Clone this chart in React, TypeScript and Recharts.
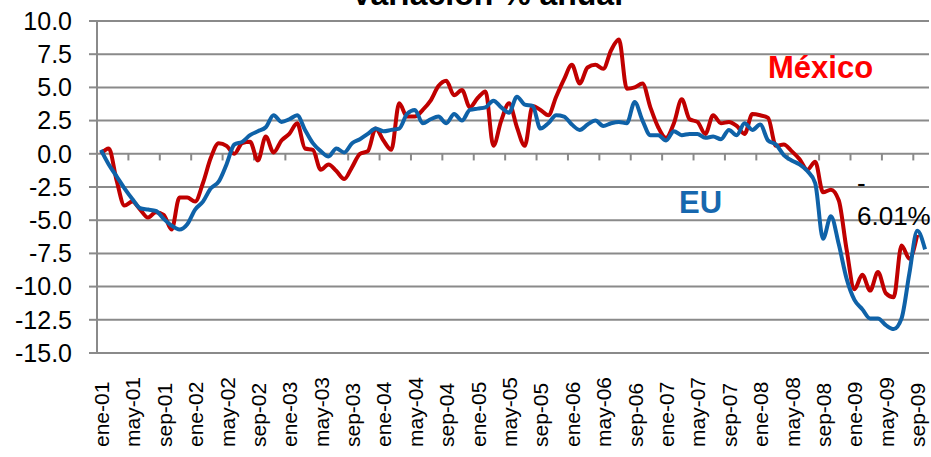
import React from 'react';
import { LineChart, Line, XAxis, YAxis, CartesianGrid, ReferenceLine } from 'recharts';

const months = ['ene', 'feb', 'mar', 'abr', 'may', 'jun', 'jul', 'ago', 'sep', 'oct', 'nov', 'dic'];
const years = ['01', '02', '03', '04', '05', '06', '07', '08', '09'];

// ene-01 .. oct-09
const categories = years.flatMap((y) => months.map((m) => `${m}-${y}`)).slice(0, 106);

const mexico = [
  0.0, 0.4, -2.0, -3.9, -3.6, -4.2, -4.8, -4.4, -4.6, -5.7,
  -3.3, -3.3, -3.6, -2.2, -0.3, 0.8, 0.6, 0.0, 0.8, 0.9,
  -0.5, 1.3, 0.1, 1.0, 1.5, 2.3, 0.4, 0.3, -1.2, -0.8,
  -1.3, -1.9, -1.0, 0.0, 0.2, 1.9, 1.0, 0.3, 3.8, 2.8,
  2.8, 3.3, 4.0, 5.1, 5.5, 4.4, 4.8, 3.5, 4.2, 4.7,
  0.6, 2.5, 3.8, 2.0, 0.6, 3.6, 3.3, 2.9, 4.3, 5.6,
  6.7, 5.3, 6.5, 6.7, 6.4, 7.8, 8.6, 4.9, 5.0, 5.3,
  3.5, 2.0, 1.2, 2.3, 4.1, 2.6, 2.4, 1.5, 2.9, 2.3,
  2.4, 2.1, 1.5, 3.0, 2.9, 2.7, 0.6, 0.7, 0.2, -0.4,
  -1.2, -0.6, -2.9, -2.7, -3.5, -7.2, -10.2, -9.1, -10.3, -8.9,
  -10.5, -10.8, -6.9, -7.9, -6.1,
];

const eu = [
  0.3, -0.8, -1.7, -2.6, -3.4, -4.1, -4.2, -4.3, -4.9, -5.4,
  -5.7, -5.3, -4.2, -3.6, -2.6, -2.1, -0.8, 0.7, 0.9, 1.4,
  1.7, 2.0, 2.9, 2.4, 2.6, 2.9, 1.8, 0.8, 0.2, -0.2,
  0.4, 0.1, 0.8, 1.1, 1.5, 1.9, 1.7, 1.8, 1.9, 3.0,
  3.3, 2.3, 2.6, 2.8, 2.3, 3.0, 2.5, 3.3, 3.4, 3.5,
  4.0, 3.5, 3.1, 4.3, 3.7, 3.6, 1.9, 2.3, 2.9, 2.8,
  2.2, 1.8, 2.2, 2.5, 2.1, 2.3, 2.4, 2.3, 3.9, 2.5,
  1.4, 1.4, 1.0, 1.7, 1.4, 1.5, 1.5, 1.2, 1.3, 1.1,
  1.8, 1.4, 2.3, 1.8, 2.2, 1.0, 0.7, -0.1, -0.5, -0.8,
  -1.3, -2.2, -6.4, -4.7, -6.8, -9.4, -11.0, -11.7, -12.4, -12.4,
  -12.9, -13.2, -12.4, -9.0, -5.8, -7.2,
];

const yTicks = [-15, -12.5, -10, -7.5, -5, -2.5, 0, 2.5, 5, 7.5, 10];
const labelTicks = categories.map((_, i) => i).filter((i) => i % 4 === 0);
const tickMarks = labelTicks.slice(1).map((i) => i - 0.5);

const rows = categories.map((label, i) => ({
  idx: i,
  label,
  mexico: i < mexico.length ? mexico[i] : null,
  eu: eu[i],
}));

const font = "'Liberation Sans', Arial, sans-serif";
const gridColor = '#8a8a8a';

const MonthTick = (props: any) => {
  const { x, payload } = props;
  return (
    <text
      transform={`translate(${x + 8},447) rotate(-90)`}
      fontSize={21}
      fontFamily={font}
      fill="#000"
    >
      {categories[payload.value]}
    </text>
  );
};

export default function App() {
  return (
    <div style={{ position: 'absolute', left: 0, top: 0, width: 931, height: 457, background: '#fff' }}>
      <LineChart width={931} height={457} data={rows} margin={{ top: 21, right: 2, bottom: 0, left: 0 }}>
        <CartesianGrid vertical={false} stroke={gridColor} strokeWidth={2} />
        <XAxis
          type="number"
          dataKey="idx"
          domain={[-0.5, 105.5]}
          ticks={labelTicks}
          interval={0}
          tick={<MonthTick />}
          tickLine={false}
          axisLine={false}
          height={104}
        />
        <YAxis
          domain={[-15, 10]}
          ticks={yTicks}
          interval={0}
          width={97}
          tickSize={8}
          tickMargin={17}
          tickFormatter={(v: number) => v.toFixed(1)}
          tick={{ fill: '#000', fontSize: 25, fontFamily: font }}
          axisLine={{ stroke: gridColor, strokeWidth: 2 }}
          tickLine={{ stroke: gridColor, strokeWidth: 2 }}
        />
        {tickMarks.map((b) => (
          <ReferenceLine
            key={b}
            segment={[{ x: b, y: 0 }, { x: b, y: -0.5 }]}
            stroke={gridColor}
            strokeWidth={2}
            ifOverflow="visible"
          />
        ))}
        <Line
          type="monotone"
          dataKey="mexico"
          stroke="#C00000"
          strokeWidth={4}
          dot={false}
          isAnimationActive={false}
        />
        <Line
          type="monotone"
          dataKey="eu"
          stroke="#0F62A8"
          strokeWidth={4}
          dot={false}
          isAnimationActive={false}
        />
      </LineChart>
      <svg
        width={931}
        height={457}
        style={{ position: 'absolute', left: 0, top: 0, pointerEvents: 'none' }}
        fontFamily={font}
      >
        <text x={487} y={5} textAnchor="middle" fontSize={32} fontWeight="bold" fill="#000">
          Variación % anual
        </text>
        <text x={768} y={78} fontSize={31} fontWeight="bold" fill="#FF0000">
          México
        </text>
        <text x={679} y={213} fontSize={31} fontWeight="bold" fill="#1767AE">
          EU
        </text>
        <text x={857} y={192} fontSize={26} fill="#000">
          -
        </text>
        <text x={857} y={225} fontSize={26} fill="#000">
          6.01%
        </text>
      </svg>
    </div>
  );
}
